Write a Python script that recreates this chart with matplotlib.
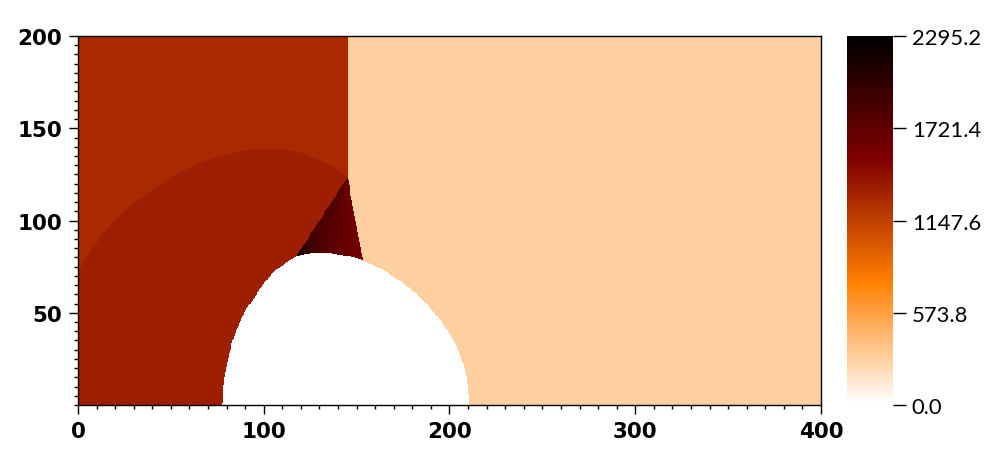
import numpy as np
import matplotlib
matplotlib.use("Agg")
import matplotlib.pyplot as plt
from matplotlib.colors import LinearSegmentedColormap
from matplotlib.path import Path

# field values
v_min, v_max = 0.0, 2295.2
v_upstream = 290.0      # right of the incident shock
v_shocked = 1276.0      # behind the incident shock
v_reflected = 1350.0    # inside the reflected shock
v_jet_base = 1600.0     # dark wedge next to the shock
v_jet_side = 250.0
v_jet_peak = 450.0
cbar_ticks = [0.0, 573.8, 1147.6, 1721.4, 2295.2]

# incident shock (x, y)
shock_x = [145.0, 145.0, 153.0, 154.0]
shock_y = [200.0, 123.5, 78.5, 70.0]

# slip line from triple point down to the body
slip_x = [117.5, 145.0]
slip_y = [80.8, 123.5]

# reflected shock arc
arc_x = [0.0, 9.0, 18.5, 28.5, 40.0, 53.8, 71.8, 89.7, 100.0, 110.0, 120.0, 130.0,
         140.0, 145.0]
arc_y = [72.8, 87.0, 98.5, 108.0, 116.5, 125.5, 133.5, 137.8, 138.8, 138.5, 136.5,
         132.5, 127.5, 123.5]

# body outline
body_x = [77.7, 78.2, 79.8, 81.8, 83.6, 85.8, 88.1, 91.0, 94.4, 98.8, 103.4, 107.8,
          112.3, 117.7, 122.0, 126.7, 133.0, 139.3, 148.2, 155.4, 162.6, 171.6,
          180.5, 188.5, 195.5, 201.0, 205.5, 208.3, 209.6, 210.0]
body_y = [0.0, 10.5, 21.0, 30.0, 35.8, 42.0, 47.5, 52.8, 57.5, 64.3, 70.1, 74.2,
          77.3, 80.6, 81.8, 82.4, 82.6, 81.8, 80.0, 77.3, 74.0, 68.3,
          61.5, 53.5, 45.0, 36.5, 27.0, 17.7, 8.0, 0.0]


def smooth(px, py, n=12):
    # catmull-rom through the read points
    p = np.column_stack([px, py])
    p = np.vstack([2 * p[0] - p[1], p, 2 * p[-1] - p[-2]])
    t = np.linspace(0, 1, n, endpoint=False)[:, None]
    out = []
    for i in range(1, len(p) - 2):
        p0, p1, p2, p3 = p[i - 1], p[i], p[i + 1], p[i + 2]
        out.append(0.5 * (2 * p1 + (p2 - p0) * t + (2 * p0 - 5 * p1 + 4 * p2 - p3) * t ** 2
                          + (3 * p1 - p0 - 3 * p2 + p3) * t ** 3))
    out.append(p[-2][None, :])
    out = np.vstack(out)
    return out[:, 0], out[:, 1]


nx, ny = 800, 400
xs = (np.arange(nx) + 0.5) * 400.0 / nx
ys = (np.arange(ny) + 0.5) * 200.0 / ny
X, Y = np.meshgrid(xs, ys)

field = np.full(X.shape, v_upstream)
x_shock = np.interp(Y, shock_y[::-1], shock_x[::-1])
behind = X < x_shock
field[behind] = v_shocked

ax_s, ay_s = smooth(arc_x, arc_y)
y_arc = np.interp(X, ax_s, ay_s)
field[behind & (Y < y_arc)] = v_reflected

x_slip = np.interp(Y, slip_y, slip_x)
wedge = behind & (X >= x_slip) & (Y <= slip_y[1])
frac = np.clip((X - x_slip) / np.maximum(x_shock - x_slip, 1e-6), 0, 1)
dist = np.hypot(X - slip_x[0], Y - slip_y[0])
jet = v_jet_base + v_jet_side * (1 - frac) + v_jet_peak * np.exp(-dist / 6.0)
field[wedge] = jet[wedge]

bx_s, by_s = smooth(body_x, body_y)
body = Path(np.column_stack([bx_s, by_s]))
inside = body.contains_points(np.column_stack([X.ravel(), Y.ravel()])).reshape(X.shape)
field[inside] = v_min

cmap = LinearSegmentedColormap.from_list(
    "heat", [(0.0, "#ffffff"), (1 / 3, "#ff8000"), (2 / 3, "#800000"), (1.0, "#000000")])

fig = plt.figure(figsize=(10.01, 4.56), dpi=100)
ax = fig.add_axes([0.0779, 0.1096, 0.7423, 0.8092])
cax = fig.add_axes([0.8462, 0.1096, 0.046, 0.8092])

im = ax.imshow(field, origin="lower", extent=[0, 400, 0, 200], cmap=cmap,
               vmin=v_min, vmax=v_max, interpolation="nearest", aspect="auto")
ax.set_xlim(0, 400)
ax.set_ylim(0, 200)
ax.set_xticks([0, 100, 200, 300, 400])
ax.set_yticks([50, 100, 150, 200])
ax.set_xticks(np.arange(0, 401, 10), minor=True)
ax.set_yticks(np.arange(0, 201, 5), minor=True)
ax.tick_params(which="major", length=6.7, width=1, pad=4.5, labelsize=15.5,
               top=False, right=False)
ax.tick_params(which="minor", length=3, width=1, top=False, right=False)
for lab in ax.get_xticklabels() + ax.get_yticklabels():
    lab.set_fontweight("bold")
for sp in ax.spines.values():
    sp.set_linewidth(1.0)

cb = fig.colorbar(im, cax=cax, ticks=cbar_ticks)
cb.outline.set_visible(False)
cax.set_yticklabels(["%.1f" % t for t in cbar_ticks], family="Lato", fontsize=15.8)
cax.tick_params(length=9.5, width=1, pad=4)

fig.savefig("out.png", dpi=100)
